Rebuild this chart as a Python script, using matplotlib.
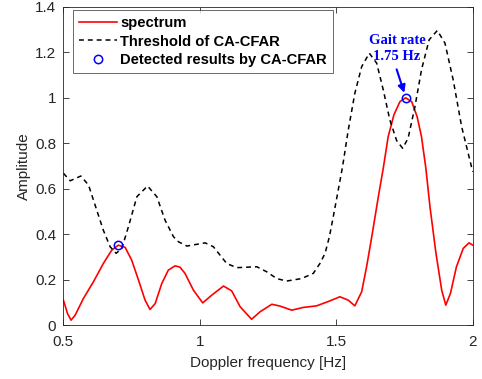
import numpy as np
import matplotlib
matplotlib.use("Agg")
import matplotlib.pyplot as plt

plt.rcParams['font.family'] = ['Liberation Sans', 'DejaVu Sans']

# spectrum (Doppler frequency [Hz], amplitude)
freq_spec = [0.501, 0.516, 0.529, 0.544, 0.574, 0.611, 0.647, 0.678, 0.702, 0.727, 0.751,
             0.776, 0.800, 0.818, 0.837, 0.861, 0.885, 0.910, 0.928, 0.946, 0.977, 1.011,
             1.044, 1.087, 1.117, 1.148, 1.190, 1.221, 1.264, 1.294, 1.337, 1.379, 1.428,
             1.477, 1.513, 1.544, 1.568, 1.593, 1.611, 1.630, 1.654, 1.672, 1.690, 1.711,
             1.733, 1.754, 1.776, 1.796, 1.812, 1.828, 1.843, 1.865, 1.886, 1.901, 1.918,
             1.940, 1.965, 1.986, 2.000]
amp_spec = [0.110, 0.051, 0.022, 0.044, 0.117, 0.191, 0.271, 0.330, 0.352, 0.342, 0.286,
            0.198, 0.110, 0.069, 0.095, 0.183, 0.242, 0.261, 0.255, 0.228, 0.154, 0.098,
            0.132, 0.172, 0.151, 0.081, 0.026, 0.059, 0.092, 0.084, 0.066, 0.078, 0.085,
            0.107, 0.125, 0.110, 0.085, 0.147, 0.257, 0.389, 0.565, 0.690, 0.829, 0.925,
            0.983, 1.000, 0.983, 0.917, 0.829, 0.690, 0.521, 0.316, 0.154, 0.088, 0.140,
            0.257, 0.338, 0.362, 0.352]

# CA-CFAR threshold
freq_thr = [0.501, 0.526, 0.565, 0.593, 0.623, 0.647, 0.672, 0.694, 0.715, 0.739, 0.770,
            0.809, 0.843, 0.873, 0.904, 0.922, 0.953, 1.020, 1.050, 1.099, 1.136, 1.209,
            1.245, 1.282, 1.318, 1.373, 1.416, 1.440, 1.459, 1.475, 1.489, 1.505, 1.523,
            1.544, 1.568, 1.593, 1.621, 1.648, 1.672, 1.696, 1.721, 1.743, 1.763, 1.788,
            1.812, 1.840, 1.870, 1.898, 1.928, 1.959, 1.995, 2.000]
amp_thr = [0.668, 0.635, 0.656, 0.616, 0.506, 0.418, 0.345, 0.316, 0.338, 0.433, 0.565,
           0.612, 0.565, 0.462, 0.389, 0.367, 0.348, 0.362, 0.345, 0.271, 0.253, 0.257,
           0.235, 0.205, 0.194, 0.205, 0.228, 0.271, 0.316, 0.390, 0.477, 0.580, 0.697,
           0.859, 1.020, 1.137, 1.196, 1.152, 1.035, 0.903, 0.812, 0.778, 0.822, 0.961,
           1.123, 1.255, 1.296, 1.240, 1.079, 0.873, 0.697, 0.675]

# detections
freq_det = [0.702, 1.754]
amp_det = [0.352, 1.000]

txt = '#262626'

fig = plt.figure(figsize=(4.82, 3.79), dpi=100)
ax = fig.add_axes([0.131, 0.142, 0.850, 0.840])

ax.plot(freq_spec, amp_spec, color='red', lw=1.2, label='spectrum')
ax.plot(freq_thr, amp_thr, color='black', lw=1.1, dashes=(3.2, 2.6),
        label='Threshold of CA-CFAR')
ax.plot(freq_det, amp_det, 'o', color='blue', mfc='none', ms=6, mew=1.1,
        label='Detected results by CA-CFAR')

# gait-rate label with arrow to the peak
ax.text(1.722, 1.218, 'Gait rate\n1.75 Hz', ha='center', va='center', color='blue',
        family='Liberation Serif', weight='bold', fontsize=10.5, linespacing=1.3)
ax.annotate('', xy=(1.749, 1.022), xytext=(1.721, 1.125),
            arrowprops=dict(arrowstyle='-|>', color='blue', lw=1.5, mutation_scale=11,
                            shrinkA=0, shrinkB=0))

ax.set_xlim(0.5, 2)
ax.set_ylim(0, 1.4)
ax.set_xticks([0.5, 1, 1.5, 2])
ax.set_xticklabels(['0.5', '1', '1.5', '2'])
ax.set_yticks(np.arange(0, 1.41, 0.2))
ax.set_yticklabels(['0', '0.2', '0.4', '0.6', '0.8', '1', '1.2', '1.4'])
ax.tick_params(direction='in', top=True, right=True, length=4, width=0.6,
               colors=txt, labelsize=11)
ax.tick_params(axis='x', pad=7)
ax.tick_params(axis='y', pad=5)
for s in ax.spines.values():
    s.set_color(txt)
    s.set_linewidth(0.6)

ax.set_xlabel('Doppler frequency [Hz]', fontsize=11, color=txt, labelpad=5)
ax.set_ylabel('Amplitude', fontsize=11, color=txt, labelpad=3)

leg = ax.legend(loc='upper left', bbox_to_anchor=(0.0244, 0.99), fancybox=False,
                edgecolor=txt, handlelength=2.6, borderpad=0.4,
                labelspacing=0.32, handletextpad=0.2, borderaxespad=0,
                prop=dict(weight='bold', size=10.6))
leg.get_frame().set_linewidth(0.6)

fig.savefig('out.png', dpi=100)
